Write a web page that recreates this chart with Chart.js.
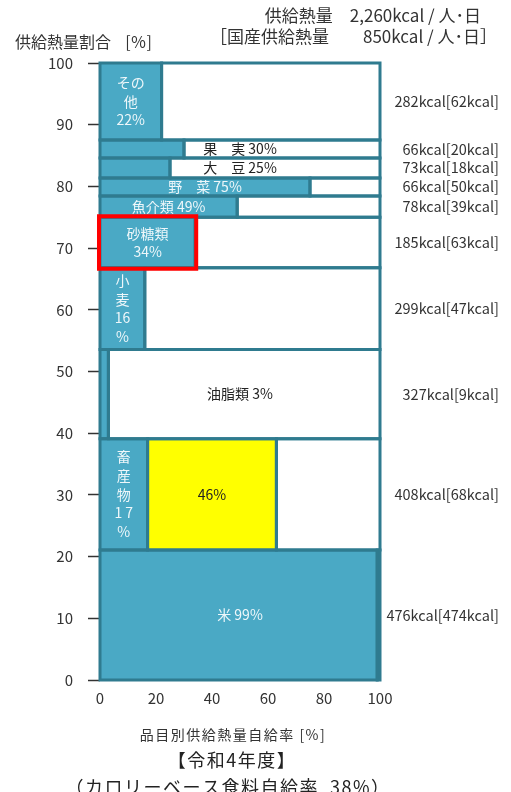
<!DOCTYPE html>
<html lang="ja">
<head>
<meta charset="utf-8">
<title>品目別供給熱量自給率</title>
<script src="https://cdn.jsdelivr.net/npm/chart.js@4.4.1/dist/chart.umd.min.js"></script>
<style>
  html, body { margin: 0; padding: 0; background: #ffffff; }
  #wrap { position: relative; width: 511px; height: 792px; }
</style>
</head>
<body>
<div id="wrap"><canvas id="chart" width="511" height="792"></canvas></div>
<script>
// 品目（下から順）
const categories = ['米', '畜産物', '油脂類', '小麦', '砂糖類', '魚介類', '野菜', '大豆', '果実', 'その他'];
// 供給熱量 kcal/人・日
const supplyKcal = [476, 408, 327, 299, 185, 78, 66, 73, 66, 282];
// 国産供給熱量 kcal/人・日
const domesticKcal = [474, 68, 9, 47, 63, 39, 50, 18, 20, 62];
// 品目別供給熱量自給率 %
const selfRates = [99, 17, 3, 16, 34, 49, 75, 25, 30, 22];
// 畜産物：飼料自給率を考慮しない場合の上乗せ分 %
const livestockExtra = 46;
// 目盛
const xTickValues = [0, 20, 40, 60, 80, 100];
const yTickValues = [0, 10, 20, 30, 40, 50, 60, 70, 80, 90, 100];

const BLUE = '#4aa9c5';
const EDGE = '#2f7b8f';
const YELLOW = '#ffff00';
const WHITE = '#ffffff';
const LIGHT_TEXT = '#eef7fa';
const DARK_TEXT = '#222222';
const JP_FONT = '"Noto Sans CJK JP", "Noto Sans", sans-serif';

// 供給熱量の構成比から各品目の帯（縦方向の範囲）を求める
const totalKcal = supplyKcal.reduce((a, b) => a + b, 0);
const bands = [];
let acc = 0;
supplyKcal.forEach(k => {
  const share = k / totalKcal * 100;
  bands.push({ y0: acc, y1: acc + share });
  acc += share;
});

// 帯ごとの矩形（自給部分・その他）
const rects = [];
categories.forEach((name, i) => {
  const { y0, y1 } = bands[i];
  const r = selfRates[i];
  rects.push({ x0: 0, x1: r, y0, y1, color: BLUE });
  if (name === '畜産物') {
    rects.push({ x0: r, x1: r + livestockExtra, y0, y1, color: YELLOW });
    rects.push({ x0: r + livestockExtra, x1: 100, y0, y1, color: WHITE });
  } else {
    rects.push({ x0: r, x1: 100, y0, y1, color: WHITE });
  }
});

// 先頭のデータセットほど手前に描かれるので、枠線を先に並べる
const datasets = [];
rects.forEach(rc => {
  datasets.push({
    data: [
      { x: rc.x0, y: rc.y0 }, { x: rc.x1, y: rc.y0 },
      { x: rc.x1, y: rc.y1 }, { x: rc.x0, y: rc.y1 }, { x: rc.x0, y: rc.y0 }
    ],
    borderColor: EDGE,
    borderWidth: 3,
    borderJoinStyle: 'miter',
    borderCapStyle: 'square',
    fill: false,
    pointRadius: 0,
    clip: 4
  });
});
rects.forEach(rc => {
  // 塗り：上辺から下端の値まで
  datasets.push({
    data: [{ x: rc.x0, y: rc.y1 }, { x: rc.x1, y: rc.y1 }],
    borderColor: 'rgba(0,0,0,0)',
    borderWidth: 0,
    backgroundColor: rc.color,
    fill: { value: rc.y0 },
    pointRadius: 0,
    clip: 4
  });
});

// 帯内ラベルの配置（x はデータ値、行は上から）
const pct = i => selfRates[i] + '%';
const bandLabels = [
  { i: 0, x: 50, lines: ['米 ' + pct(0)], color: LIGHT_TEXT },
  { i: 1, x: 8.5, lines: ['畜', '産', '物', String(selfRates[1]).split('').join(' '), '%'], color: LIGHT_TEXT },
  { i: 1, x: selfRates[1] + livestockExtra / 2, lines: [livestockExtra + '%'], color: DARK_TEXT },
  { i: 2, x: 50, lines: ['油脂類 ' + pct(2)], color: DARK_TEXT },
  { i: 3, x: 8, lines: ['小', '麦', String(selfRates[3]), '%'], color: LIGHT_TEXT },
  { i: 4, x: selfRates[4] / 2, lines: ['砂糖類', pct(4)], color: LIGHT_TEXT },
  { i: 5, x: selfRates[5] / 2, lines: ['魚介類 ' + pct(5)], color: LIGHT_TEXT },
  { i: 6, x: selfRates[6] / 2, lines: ['野　菜 ' + pct(6)], color: LIGHT_TEXT },
  { i: 7, x: 50, lines: ['大　豆 ' + pct(7)], color: DARK_TEXT },
  { i: 8, x: 50, lines: ['果　実 ' + pct(8)], color: DARK_TEXT },
  { i: 9, x: selfRates[9] / 2, lines: ['その', '他', pct(9)], color: LIGHT_TEXT }
];

const annotations = {
  id: 'annotations',
  afterDatasetsDraw(chart) {
    const { ctx } = chart;
    const xs = chart.scales.x, ys = chart.scales.y;
    ctx.save();
    ctx.textAlign = 'center';
    ctx.textBaseline = 'middle';
    ctx.font = '14px ' + JP_FONT;
    bandLabels.forEach(lb => {
      const b = bands[lb.i];
      const cx = xs.getPixelForValue(lb.x);
      const cy = ys.getPixelForValue((b.y0 + b.y1) / 2);
      const lh = 18.6;
      const top = cy - (lb.lines.length - 1) * lh / 2;
      ctx.fillStyle = lb.color;
      lb.lines.forEach((t, k) => ctx.fillText(t, cx, top + k * lh));
    });

    // 右側：供給熱量［国産供給熱量］
    ctx.textAlign = 'right';
    ctx.fillStyle = '#333333';
    ctx.font = '14.5px ' + JP_FONT;
    categories.forEach((c, i) => {
      const b = bands[i];
      const cy = ys.getPixelForValue((b.y0 + b.y1) / 2);
      ctx.fillText(supplyKcal[i] + 'kcal[' + domesticKcal[i] + 'kcal]', 499, cy);
    });

    // 砂糖類の自給部分を赤枠で強調
    const s = categories.indexOf('砂糖類');
    const l = xs.getPixelForValue(0), r = xs.getPixelForValue(selfRates[s]);
    const t = ys.getPixelForValue(bands[s].y1), btm = ys.getPixelForValue(bands[s].y0);
    ctx.strokeStyle = '#ff0000';
    ctx.lineWidth = 4;
    ctx.strokeRect(l - 1, t - 1, r - l + 2, btm - t + 2);
    ctx.restore();
  },
  afterDraw(chart) {
    const { ctx } = chart;
    ctx.save();
    ctx.fillStyle = '#333333';
    ctx.textBaseline = 'middle';
    ctx.font = '16px ' + JP_FONT;
    ctx.textAlign = 'left';
    ctx.fillText('供給熱量割合', 15, 42);
    ctx.textAlign = 'right';
    ctx.font = '16px ' + JP_FONT;
    ctx.fillText('[％]', 152, 42);
    ctx.font = '17px ' + JP_FONT;
    ctx.fillText('供給熱量　2,260kcal / 人･日', 481, 16);
    ctx.fillText('［国産供給熱量　　850kcal / 人･日］', 497, 37);

    ctx.textAlign = 'center';
    ctx.font = '14px ' + JP_FONT;
    ctx.letterSpacing = '1.5px';
    ctx.fillText('品目別供給熱量自給率 [%]', 233, 735);
    ctx.fillStyle = '#222222';
    ctx.font = '18px ' + JP_FONT;
    ctx.fillText('【令和4年度】', 232, 760);
    ctx.fillText('（カロリーベース食料自給率  38%）', 228, 787);
    ctx.restore();
  }
};

new Chart(document.getElementById('chart'), {
  type: 'line',
  data: { datasets },
  options: {
    responsive: false,
    devicePixelRatio: 1,
    animation: false,
    events: [],
    layout: { padding: { top: 63, right: 131, bottom: 0, left: 0 } },
    plugins: { legend: { display: false }, tooltip: { enabled: false } },
    elements: { point: { radius: 0 }, line: { tension: 0 } },
    scales: {
      x: {
        type: 'linear',
        min: 0, max: 100,
        afterBuildTicks(scale) { scale.ticks = xTickValues.map(v => ({ value: v })); },
        afterFit(scale) { scale.height = 112; },
        grid: { display: false, drawTicks: false },
        border: { display: false },
        ticks: { padding: 9, color: '#333333', font: { family: JP_FONT, size: 15 } }
      },
      y: {
        type: 'linear',
        min: 0, max: 100,
        afterBuildTicks(scale) { scale.ticks = yTickValues.map(v => ({ value: v })); },
        afterFit(scale) { scale.width = 100; },
        grid: { display: true, drawOnChartArea: false, drawTicks: true, tickLength: 12, tickColor: '#333333', tickWidth: 1.5 },
        border: { display: false },
        ticks: { padding: 15, color: '#333333', font: { family: JP_FONT, size: 15 } }
      }
    }
  },
  plugins: [annotations]
});
</script>
</body>
</html>
